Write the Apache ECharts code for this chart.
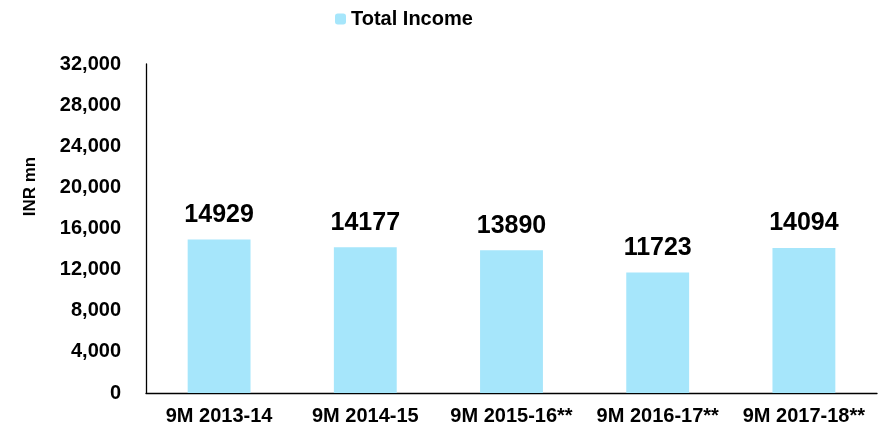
<!DOCTYPE html>
<html>
<head>
<meta charset="utf-8">
<script src="https://cdn.jsdelivr.net/npm/echarts@6/dist/echarts.min.js"></script>
<style>
  html, body { margin: 0; padding: 0; background: #fff; }
  #chart { width: 885px; height: 430px; }
</style>
</head>
<body>
<div id="chart"></div>
<script>
const categories = ["9M 2013-14", "9M 2014-15", "9M 2015-16**", "9M 2016-17**", "9M 2017-18**"];
const totalIncome = [14929, 14177, 13890, 11723, 14094];

const font = "Liberation Sans, Arial, sans-serif";
const chart = echarts.init(document.getElementById("chart"));

chart.setOption({
  animation: false,
  legend: {
    data: ["Total Income"],
    top: 4,
    left: 330,
    itemWidth: 11,
    itemHeight: 11,
    itemGap: 4,
    textStyle: { fontFamily: font, fontSize: 20, fontWeight: "bold", color: "#000" },
  },
  grid: { left: 146, right: 8, top: 64, bottom: 37 },
  xAxis: {
    type: "category",
    data: categories,
    axisLine: { lineStyle: { color: "#000", width: 1.3 } },
    axisTick: { show: false },
    axisLabel: {
      fontFamily: font, fontSize: 20, fontWeight: "bold", color: "#000", margin: 13,
      interval: 0,
    },
  },
  yAxis: {
    type: "value",
    min: 0,
    max: 32000,
    interval: 4000,
    name: "INR mn",
    nameLocation: "middle",
    nameGap: 107,
    nameTextStyle: {
      fontFamily: font, fontSize: 17, fontWeight: "bold", color: "#000",
      padding: [0, 0, 0, 84],
    },
    axisLine: { show: true, lineStyle: { color: "#000", width: 1.3 } },
    axisTick: { show: false },
    splitLine: { show: false },
    axisLabel: {
      fontFamily: font, fontSize: 20, fontWeight: "bold", color: "#000", margin: 25,
      formatter: (v) => v.toLocaleString("en-US"),
    },
  },
  series: [
    {
      name: "Total Income",
      type: "bar",
      data: totalIncome,
      barWidth: "43%",
      itemStyle: { color: "#A6E6FB" },
      label: {
        show: true,
        position: "top",
        distance: 12,
        fontFamily: font,
        fontSize: 25,
        fontWeight: "bold",
        color: "#000",
      },
    },
  ],
});
</script>
</body>
</html>
